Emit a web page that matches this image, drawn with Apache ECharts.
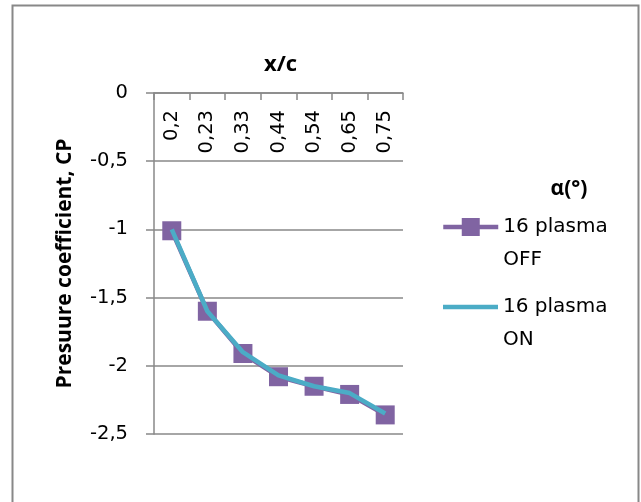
<!DOCTYPE html>
<html>
<head>
<meta charset="utf-8">
<script src="https://cdn.jsdelivr.net/npm/echarts@6/dist/echarts.min.js"></script>
<style>
html,body{margin:0;padding:0;background:#fff;}
#chart{width:641px;height:502px;}
</style>
</head>
<body>
<div id="chart"></div>
<script>
var categories = ['0,2', '0,23', '0,33', '0,44', '0,54', '0,65', '0,75'];
var plasmaOff = [-1.01, -1.6, -1.91, -2.08, -2.15, -2.21, -2.36];
var plasmaOn = [-1.0, -1.6, -1.9, -2.07, -2.15, -2.2, -2.35];
var yTicks = { min: -2.5, max: 0, interval: 0.5 };

var FONT = 'DejaVu Sans';
var BOLD = 'Open Sans';
var GRAY = '#888888';
var chart = echarts.init(document.getElementById('chart'));
chart.setOption({
  animation: false,
  backgroundColor: '#fff',
  graphic: [{
    type: 'rect',
    shape: { x: 12.5, y: 5.5, width: 626, height: 530 },
    style: { fill: 'none', stroke: GRAY, lineWidth: 2 },
    silent: true
  }],
  title: [{
    text: 'x/c',
    left: 275.5,
    textAlign: 'center',
    top: 49,
    textStyle: { fontFamily: BOLD, fontSize: 22, fontWeight: 'bold', color: '#000' }
  }, {
    text: 'α(°)',
    left: 564,
    textAlign: 'center',
    top: 174,
    textStyle: { fontFamily: BOLD, fontSize: 21, fontWeight: 'bold', color: '#000' }
  }],
  legend: [{
    data: ['16 plasma OFF'],
    orient: 'vertical',
    left: 441,
    top: 177.5,
    padding: 0,
    itemWidth: 55,
    itemHeight: 22.5,
    lineStyle: { width: 4.5 },
    formatter: function (n) { return ' \n' + n.replace(' OFF', '\nOFF'); },
    textStyle: { fontFamily: FONT, fontSize: 20, color: '#000', lineHeight: 33 }
  }, {
    data: [{ name: '16 plasma ON', icon: 'rect' }],
    orient: 'vertical',
    left: 443,
    top: 257.5,
    padding: 0,
    itemWidth: 55,
    itemHeight: 4.5,
    formatter: function (n) { return ' \n' + n.replace(' ON', '\nON'); },
    textStyle: { fontFamily: FONT, fontSize: 20, color: '#000', lineHeight: 33 }
  }],
  grid: { left: 154, right: 238, top: 93, bottom: 68 },
  xAxis: {
    type: 'category',
    position: 'top',
    data: categories,
    boundaryGap: true,
    axisLine: { show: true, lineStyle: { color: GRAY, width: 1.5 } },
    axisTick: { show: true, inside: true, length: 7, lineStyle: { color: GRAY, width: 1.5 } },
    axisLabel: { inside: true, rotate: 90, margin: 17, fontFamily: FONT, fontSize: 19.5, color: '#000' },
    splitLine: { show: false }
  },
  yAxis: {
    type: 'value',
    min: yTicks.min,
    max: yTicks.max,
    interval: yTicks.interval,
    name: 'Presuure coefficient, CP',
    nameLocation: 'middle',
    nameGap: 78,
    nameTextStyle: { fontFamily: BOLD, fontSize: 21, fontWeight: 'bold', color: '#000' },
    axisLine: { show: true, lineStyle: { color: GRAY, width: 1.5 } },
    axisTick: { show: true, length: 8, lineStyle: { color: GRAY, width: 1.5 } },
    axisLabel: {
      margin: 26, fontFamily: FONT, fontSize: 19.5, color: '#000',
      formatter: function (v) { return String(v).replace('.', ','); }
    },
    splitLine: { show: true, lineStyle: { color: GRAY, width: 1.5 } }
  },
  series: [{
    name: '16 plasma OFF',
    type: 'line',
    data: plasmaOff,
    symbol: 'rect',
    symbolSize: 19,
    itemStyle: { color: '#8064A2' },
    lineStyle: { color: '#8064A2', width: 4.5 },
    z: 2
  }, {
    name: '16 plasma ON',
    type: 'line',
    data: plasmaOn,
    symbol: 'none',
    itemStyle: { color: '#4BACC6' },
    lineStyle: { color: '#4BACC6', width: 4.5 },
    z: 3
  }]
});
</script>
</body>
</html>
